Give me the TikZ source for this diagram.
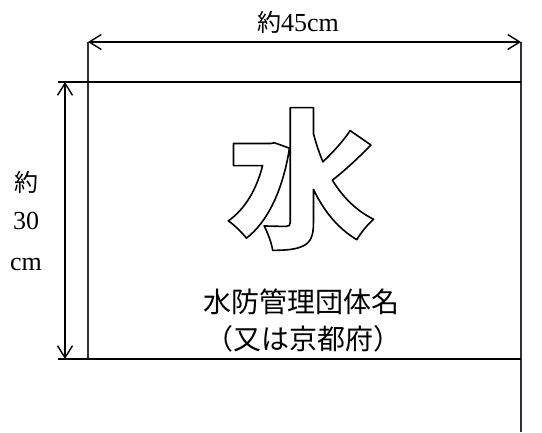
\documentclass[tikz,border=0pt]{standalone}
\usepackage{fontspec}
\setmainfont{Liberation Serif}
\newfontfamily\cjk{Noto Sans CJK JP}
\usetikzlibrary{arrows.meta}
\tikzset{
  edge/.style={line width=1.6bp, black},
  ext/.style={line width=1.3bp, black!80},
  dim/.style={line width=1.4bp, {Straight Barb[length=12bp,width=15bp]}-{Straight Barb[length=12bp,width=15bp]}},
  lbl/.style={inner sep=0pt, font=\fontsize{26bp}{30bp}\selectfont},
  kan/.style={inner sep=0pt, font=\cjk\fontsize{28bp}{32bp}\selectfont},
  bigchar/.style={inner sep=0pt, font=\cjk\bfseries\fontsize{150bp}{150bp}\selectfont},
}
\newcommand\outlinetext[1]{\special{pdf:literal direct q 1 Tr 1.6 w 1 j 0 G}#1\special{pdf:literal direct Q}}
\begin{document}
\begin{tikzpicture}[x=1bp,y=-1bp]
\useasboundingbox (0,0) rectangle (542,432);
% coordinates
\coordinate (vl0) at (88,42);
\coordinate (vl1) at (88,359);
\coordinate (vr0) at (521,42);
\coordinate (vr1) at (521,432);
\coordinate (ht0) at (58,82);
\coordinate (ht1) at (521,82);
\coordinate (hb0) at (58,359);
\coordinate (hb1) at (521,359);
\coordinate (at0) at (88,42);
\coordinate (at1) at (521,42);
\coordinate (al0) at (65,82);
\coordinate (al1) at (65,359);
% lines
\draw[ext] (vl0) -- (vl1);
\draw[ext] (vr0) -- (vr1);
\draw[edge] (ht0) -- (ht1);
\draw[edge] (hb0) -- (hb1);
\draw[dim] (at0) -- (at1);
\draw[dim] (al0) -- (al1);
% labels
\node[lbl] (wlab) at (298,22) {{\cjk\fontsize{24bp}{24bp}\selectfont 約}45cm};
\node[lbl] (h1) at (26,182) {{\cjk\fontsize{24bp}{24bp}\selectfont 約}};
\node[lbl] (h2) at (26,221) {30};
\node[lbl] (h3) at (26,264) {cm};
\node[kan] (n1) at (301,302) {水防管理団体名};
\node[kan] (n2) at (303,339) {（又は京都府）};
% big outlined character
\node[bigchar] (mw) at (301,179) {\outlinetext{水}};
\end{tikzpicture}
\end{document}
